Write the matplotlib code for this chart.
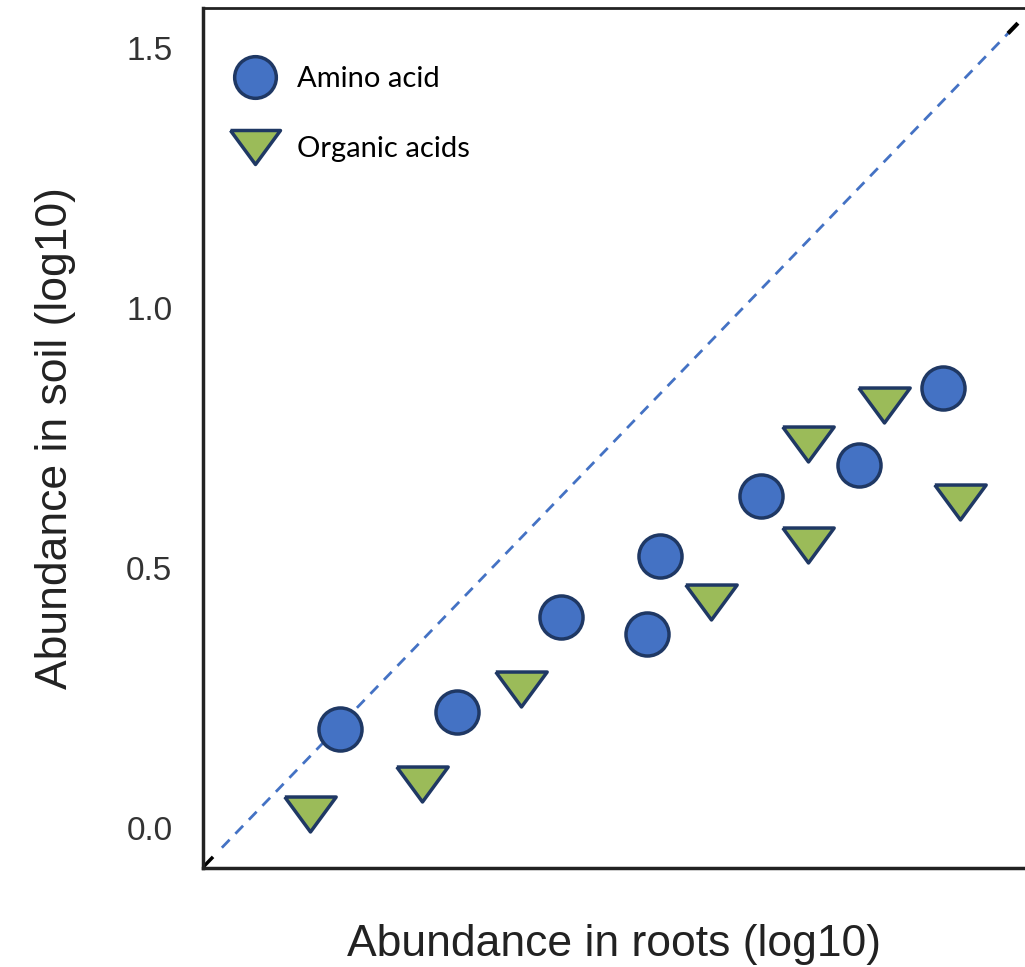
import matplotlib.pyplot as plt
from matplotlib.lines import Line2D

# values (log10 abundance)
amino_x = [0.197, 0.430, 0.637, 0.809, 0.835, 1.036, 1.231, 1.398]
amino_y = [0.190, 0.223, 0.406, 0.373, 0.523, 0.638, 0.698, 0.846]
organic_x = [0.137, 0.361, 0.558, 0.936, 1.129, 1.129, 1.281, 1.432]
organic_y = [0.027, 0.085, 0.267, 0.435, 0.544, 0.738, 0.813, 0.627]
diag = [-0.038, 1.531]
y_ticks = [0.0, 0.5, 1.0, 1.5]

blue = '#4472C4'
green = '#9BBB59'
edge = '#1F3864'
# squat downward triangle
tri = [(-1, 0.68), (1, 0.68), (0, -0.68), (-1, 0.68)]

plt.rcParams['font.family'] = ['Liberation Sans', 'DejaVu Sans']

fig = plt.figure(figsize=(10.25, 9.67), dpi=100)
ax = fig.add_axes([0.198, 0.1024, 0.802, 0.8893])

ax.plot(diag, diag, ls=(0, (4, 3)), color=blue, lw=2, zorder=1)
ax.plot([-0.076, -0.058], [-0.076, -0.058], color='black', lw=2.5, zorder=1)
ax.plot([1.531, 1.545], [1.531, 1.545], color='black', lw=3, zorder=1)

ax.plot(amino_x, amino_y, ls='none', marker='o', ms=31, mfc=blue,
        mec=edge, mew=2.5, zorder=3)
ax.plot(organic_x, organic_y, ls='none', marker=tri, ms=37, mfc=green,
        mec=edge, mew=2.5, zorder=3)

ax.set_xlim(-0.0757, 1.562)
ax.set_ylim(-0.077, 1.577)
ax.set_xticks([])
ax.set_yticks(y_ticks)
ax.set_yticklabels([f'{v:.1f}' for v in y_ticks])
ax.tick_params(axis='y', length=0, pad=22, labelsize=24, labelcolor='#333333')

for s in ['left', 'bottom']:
    ax.spines[s].set_linewidth(2.5)
    ax.spines[s].set_color('#222222')
ax.spines['top'].set_linewidth(2)
ax.spines['top'].set_color('#222222')
ax.spines['right'].set_visible(False)

ax.set_xlabel('Abundance in roots (log10)', fontsize=32, color='#222222', labelpad=40)
ax.set_ylabel('Abundance in soil (log10)', fontsize=32, color='#222222', labelpad=36)

handles = [
    Line2D([], [], ls='none', marker='o', ms=30, mfc=blue, mec=edge, mew=2.5),
    Line2D([], [], ls='none', marker=tri, ms=36, mfc=green, mec=edge, mew=2.5),
]
ax.legend(handles, ['Amino acid', 'Organic acids'], loc='upper left',
          frameon=False, prop={'family': 'Lato', 'size': 21},
          labelspacing=1.5, handlelength=1.5, handletextpad=0.7,
          borderpad=0, borderaxespad=0, bbox_to_anchor=(0.0365, 0.9325))

fig.savefig('out.png', dpi=100)
